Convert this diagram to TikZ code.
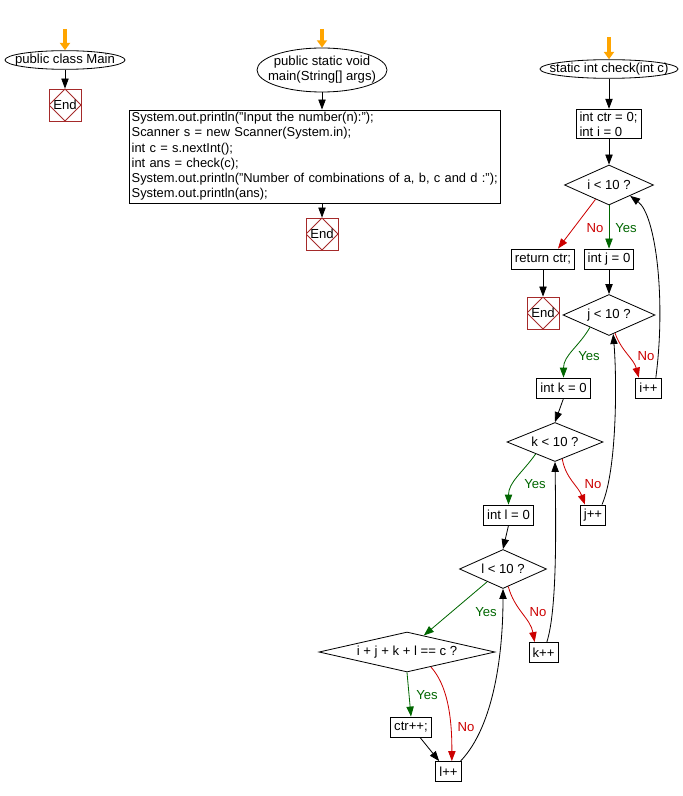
\documentclass[tikz,border=0pt]{standalone}
\usepackage{fontspec}
\setmainfont{Liberation Sans}
\usetikzlibrary{shapes.geometric,arrows.meta,calc}
\definecolor{endred}{RGB}{165,42,42}
\definecolor{yesgreen}{RGB}{0,102,0}
\definecolor{nored}{RGB}{204,0,0}
\definecolor{startorange}{RGB}{255,165,0}
\tikzstyle{every node}=[font=\fontsize{11.2}{13}\selectfont]
\tikzstyle{proc}=[rectangle, draw=black, fill=white, inner xsep=3pt, inner ysep=2pt, minimum height=0.6cm, align=left]
\tikzstyle{ell}=[ellipse, draw=black, inner xsep=0pt, inner ysep=-2pt]
\tikzstyle{dec}=[diamond, draw=black, inner sep=0pt, aspect=2.2]
\tikzstyle{term}=[rectangle, draw=endred, minimum size=0.96cm, inner sep=0pt, path picture={\draw[endred] (path picture bounding box.north) -- (path picture bounding box.east) -- (path picture bounding box.south) -- (path picture bounding box.west) -- cycle;}]
\tikzstyle{flow}=[draw=black, -{Triangle[length=0.3cm,width=0.22cm]}]
\tikzstyle{startarr}=[draw=startorange, line width=3.5pt, -{Triangle[length=0.22cm,width=0.3cm]}]
\tikzstyle{yesline}=[flow, draw=yesgreen]
\tikzstyle{noline}=[flow, draw=nored]
\tikzstyle{yeslab}=[text=yesgreen]
\tikzstyle{nolab}=[text=nored]
\newcommand{\ctext}[1]{\makebox[0pt]{#1}}
\begin{document}
\begin{tikzpicture}[x=0.03cm, y=-0.03cm, line width=0.7pt]
	\useasboundingbox (0,0) rectangle (682,796);

	% public class Main
	\coordinate (s1) at (65,29);
	\node[ell, minimum width=3.6cm, minimum height=0.56cm] (cls) at (65,60) {\ctext{public class Main}};
	\node[term] (end1) at (65,105) {End};
	\draw[startarr] (s1) -- (cls.north);
	\draw[flow] (cls.south) -- (end1.north);

	% main
	\coordinate (s2) at (322,29);
	\node[ell, minimum width=3.9cm, minimum height=1.32cm] (mainfn) at (322,70) {\ctext{\begin{tabular}{@{}c@{}}public static void\\main(String[] args)\end{tabular}}};
	\node[proc, font=\fontsize{11}{13}\selectfont, inner xsep=1.5pt, text width=11cm, minimum height=2.79cm] (code) at (315,156.5) {System.out.println("Input the number(n):");\\Scanner s = new Scanner(System.in);\\int c = s.nextInt();\\int ans = check(c);\\System.out.println("Number of combinations of a, b, c and d :");\\System.out.println(ans);};
	\node[term] (end2) at (322,234) {End};
	\draw[startarr] (s2) -- (mainfn.north);
	\draw[flow] (mainfn.south) -- (mainfn.south |- code.north);
	\draw[flow] (code.south -| end2) -- (end2.north);

	% check
	\coordinate (s3) at (609,37);
	\node[ell, minimum width=4.14cm, minimum height=0.56cm] (chk) at (609,69) {\ctext{static int check(int c)}};
	\node[proc] (init) at (608.5,124) {int ctr = 0;\\int i = 0};
	\node[dec, minimum width=2.67cm, minimum height=1.2cm] (dI) at (609,185) {i < 10 ?};
	\node[proc] (ret) at (543,259) {return ctr;};
	\node[proc] (jinit) at (609,259) {int j = 0};
	\node[term] (end3) at (543,313) {End};
	\node[dec, minimum width=2.76cm, minimum height=1.23cm] (dJ) at (609,315) {j < 10 ?};
	\node[proc] (kinit) at (563.5,388) {int k = 0};
	\node[proc] (iinc) at (648.5,388) {i++};
	\node[dec, minimum width=2.88cm, minimum height=1.17cm] (dK) at (555,442) {k < 10 ?};
	\node[proc] (linit) at (508.5,515) {int l = 0};
	\node[proc] (jinc) at (593,515) {j++};
	\node[dec, minimum width=2.61cm, minimum height=1.17cm] (dL) at (503,569) {l < 10 ?};
	\node[dec, aspect=4.4, minimum width=5.28cm, minimum height=1.2cm] (dSum) at (407,652) {i + j + k + l == c ?};
	\node[proc] (kinc) at (543.5,652.5) {k++};
	\node[proc] (cinc) at (411,727) {ctr++;};
	\node[proc] (linc) at (448.5,771.5) {l++};

	\draw[startarr] (s3) -- (chk.north);
	\draw[flow] (chk.south) -- (chk.south |- init.north);
	\draw[flow] (init.south -| dI) -- (dI.north);
	\draw[noline] ($(dI.south)!0.3!(dI.west)$) -- ([xshift=0.45cm]ret.north);
	\draw[yesline] (dI.south) -- (jinit.north);
	\draw[flow] (ret.south) -- (end3.north);
	\draw[flow] (jinit.south) -- (dJ.north);
	\draw[yesline] ($(dJ.south)!0.41!(dJ.west)$) to[out=-120, in=90] (kinit.north);
	\draw[noline] ($(dJ.south)!0.13!(dJ.east)$) to[out=-70, in=105] ([xshift=0.1cm]iinc.north west);
	\draw[flow] ([xshift=0.22cm]iinc.north) .. controls (666,300) and (656,215) .. ($(dI.south)!0.47!(dI.east)$);

	\draw[flow] (kinit.south) -- (dK.north);
	\draw[yesline] ($(dK.south)!0.4!(dK.west)$) to[out=-125, in=90] (linit.north);
	\draw[noline] ($(dK.south)!0.15!(dK.east)$) to[out=-80, in=110] ([xshift=0.15cm]jinc.north west);
	\draw[flow] ([xshift=0.27cm]jinc.north) .. controls (617,470) and (617,380) .. ($(dJ.south)!0.09!(dJ.east)$);

	\draw[flow] (linit.south) -- (dL.north);
	\draw[yesline] ($(dL.south)!0.36!(dL.west)$) -- ($(dSum.north)!0.19!(dSum.east)$);
	\draw[noline] ($(dL.south)!0.12!(dL.east)$) to[out=-75, in=100] ([xshift=0.18cm]kinc.north west);
	\draw[flow] ([xshift=0.1cm]kinc.north) .. controls (557,610) and (556,530) .. (dK.south);

	\draw[yesline] (dSum.south) -- (cinc.north);
	\draw[noline] ($(dSum.south)!0.27!(dSum.east)$) .. controls (447,685) and (452,715) .. ([xshift=0.1cm]linc.north);
	\draw[flow] ([xshift=0.27cm]cinc.south) -- ([xshift=-0.28cm]linc.north);
	\draw[flow] ([xshift=-0.03cm]linc.north east) .. controls (495,725) and (503,650) .. (dL.south);

	% branch labels
	\node[yeslab] (yI) at (626,228) {Yes};
	\node[nolab] (nI) at (595,228) {No};
	\node[yeslab] (yJ) at (589,356) {Yes};
	\node[nolab] (nJ) at (646,356) {No};
	\node[yeslab] (yK) at (535,484) {Yes};
	\node[nolab] (nK) at (593,484) {No};
	\node[yeslab] (yL) at (486,612) {Yes};
	\node[nolab] (nL) at (538,612) {No};
	\node[yeslab] (yS) at (427,695) {Yes};
	\node[nolab] (nS) at (466,727) {No};

\end{tikzpicture}
\end{document}
